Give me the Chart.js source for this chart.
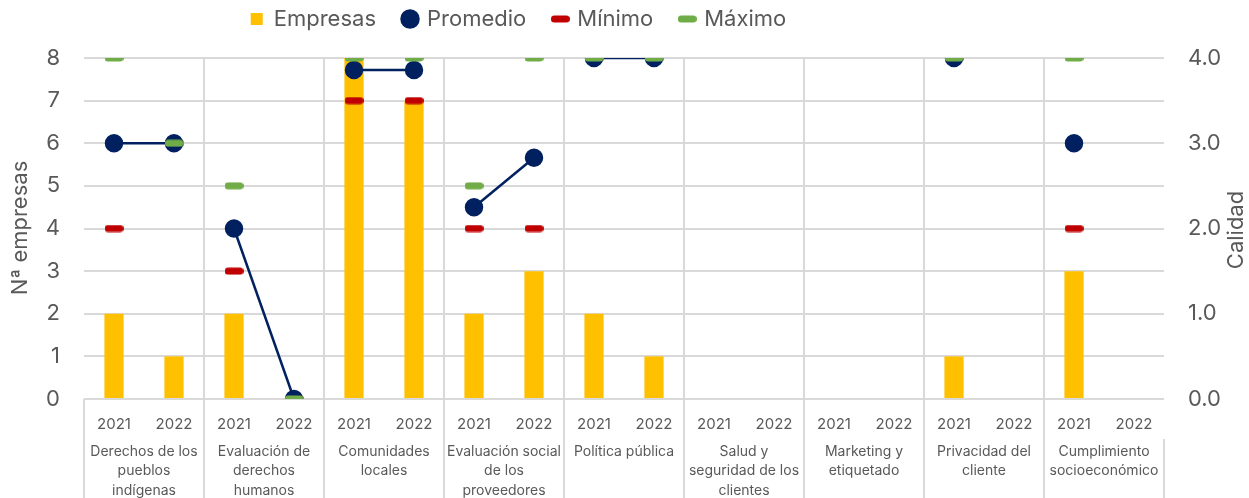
<!DOCTYPE html>
<html>
<head>
<meta charset="utf-8">
<script src="https://cdn.jsdelivr.net/npm/chart.js@4.4.1/dist/chart.umd.min.js"></script>
<style>
html, body { margin: 0; padding: 0; background: #fff; }
#contenedor { width: 1249px; height: 498px; }
</style>
</head>
<body>
<div id="contenedor"><canvas id="grafica"></canvas></div>
<script>
// datos
var anios = ["2021", "2022", "2021", "2022", "2021", "2022", "2021", "2022", "2021", "2022",
             "2021", "2022", "2021", "2022", "2021", "2022", "2021", "2022"];
var grupos = [
    ["Derechos de los", "pueblos", "indígenas"],
    ["Evaluación de", "derechos", "humanos"],
    ["Comunidades", "locales"],
    ["Evaluación social", "de los", "proveedores"],
    ["Política pública"],
    ["Salud y", "seguridad de los", "clientes"],
    ["Marketing y", "etiquetado"],
    ["Privacidad del", "cliente"],
    ["Cumplimiento", "socioeconómico"]
];
var empresas = [2, 1, 2, 0, 8, 7, 2, 3, 2, 1, 0, 0, 0, 0, 1, 0, 3, 0];
var promedio = [3, 3, 2, 0, 3.86, 3.86, 2.25, 2.83, 4, 4, null, null, null, null, 4, null, 3, null];
var minimo   = [2, 3, 1.5, 0, 3.5, 3.5, 2, 2, 4, 4, null, null, null, null, 4, null, 2, null];
var maximo   = [4, 3, 2.5, 0, 4, 4, 2.5, 4, 4, 4, null, null, null, null, 4, null, 4, null];

var colorTexto = "#595959";
var colorRejilla = "#d9d9d9";
Chart.defaults.font.family = "Inter";
Chart.defaults.color = colorTexto;

// marcador en forma de pastilla para minimo / maximo
function pastilla(color) {
    var c = document.createElement("canvas");
    c.width = 19; c.height = 8;
    var x = c.getContext("2d");
    x.fillStyle = color;
    x.beginPath();
    x.roundRect(0, 0.5, 19, 7, 3.5);
    x.fill();
    return c;
}

var titulosEjes = {
    id: "titulosEjes",
    afterInit: function (chart) {
        // ajustar el hueco de la leyenda
        var fitOriginal = chart.legend.fit;
        chart.legend.fit = function () {
            fitOriginal.call(this);
            this.height -= 2;
        };
    },
    afterLayout: function (chart) {
        // desplazar la leyenda como en el original
        chart.legend.left -= 106;
        chart.legend.right -= 106;
        chart.legend.top -= 20;
        chart.legend.bottom -= 20;
    },
    afterDraw: function (chart) {
        var ctx = chart.ctx;
        ctx.save();
        ctx.fillStyle = colorTexto;
        ctx.font = "22px Inter";
        ctx.textAlign = "center";
        ctx.textBaseline = "middle";
        ctx.translate(20, 228);
        ctx.rotate(-Math.PI / 2);
        ctx.fillText("Nª empresas", 0, 0);
        ctx.restore();
        ctx.save();
        ctx.fillStyle = colorTexto;
        ctx.font = "22px Inter";
        ctx.textAlign = "center";
        ctx.textBaseline = "middle";
        ctx.translate(1236, 230);
        ctx.rotate(-Math.PI / 2);
        ctx.fillText("Calidad", 0, 0);
        ctx.restore();
    }
};

var ctx = document.getElementById("grafica").getContext("2d");
var grafica = new Chart(ctx, {
    data: {
        labels: anios,
        datasets: [
            {
                type: "bar",
                label: "Empresas",
                data: empresas,
                backgroundColor: "#FFC000",
                barPercentage: 0.32,
                categoryPercentage: 1,
                pointStyle: "rect",
                yAxisID: "y",
                order: 4
            },
            {
                type: "line",
                label: "Promedio",
                data: promedio,
                borderColor: "#002060",
                backgroundColor: "#002060",
                borderWidth: 2.5,
                pointRadius: 8,
                pointHoverRadius: 8,
                pointStyle: "circle",
                segment: {
                    borderColor: function (c) { return c.p0DataIndex % 2 === 1 ? "transparent" : "#002060"; }
                },
                yAxisID: "y2",
                order: 2
            },
            {
                type: "line",
                label: "Mínimo",
                data: minimo,
                showLine: false,
                pointStyle: pastilla("#C00000"),
                borderColor: "#C00000",
                backgroundColor: "#C00000",
                yAxisID: "y2",
                order: 3
            },
            {
                type: "line",
                label: "Máximo",
                data: maximo,
                showLine: false,
                pointStyle: pastilla("#70AD47"),
                borderColor: "#70AD47",
                backgroundColor: "#70AD47",
                yAxisID: "y2",
                order: 1
            }
        ]
    },
    options: {
        responsive: true,
        maintainAspectRatio: false,
        animation: false,
        layout: { padding: 0 },
        plugins: {
            tooltip: { enabled: false },
            legend: {
                position: "top",
                labels: {
                    usePointStyle: true,
                    boxWidth: 12,
                    boxHeight: 12,
                    padding: 28,
                    font: { size: 22 },
                    color: colorTexto,
                    sort: function (a, b) { return a.datasetIndex - b.datasetIndex; }
                }
            }
        },
        scales: {
            x: {
                type: "category",
                position: "bottom",
                offset: true,
                border: { display: false },
                grid: {
                    offset: true,
                    color: function (c) { return (c.index % 2 === 0 && c.index > 0) ? colorRejilla : "transparent"; },
                    tickColor: function (c) { return c.index % 2 === 0 ? colorRejilla : "transparent"; },
                    lineWidth: 2,
                    tickLength: 40
                },
                ticks: { font: { size: 15 }, padding: -24, maxRotation: 0, autoSkip: false },
                afterFit: function (s) { s.height = 40; }
            },
            x2: {
                type: "category",
                position: "bottom",
                labels: grupos,
                offset: true,
                border: { display: false },
                grid: {
                    offset: true,
                    drawOnChartArea: false,
                    color: colorRejilla,
                    lineWidth: 2,
                    tickLength: 59
                },
                ticks: { font: { size: 14, lineHeight: 1.38 }, padding: -56, maxRotation: 0, autoSkip: false },
                afterFit: function (s) { s.height = 59; }
            },
            y: {
                position: "left",
                min: 0,
                max: 8,
                border: { display: false },
                grid: { color: colorRejilla, lineWidth: 2, drawTicks: false },
                ticks: { stepSize: 1, font: { size: 22 }, padding: 24 },
                afterFit: function (s) { s.width = 84; }
            },
            y2: {
                position: "right",
                min: 0,
                max: 4,
                border: { display: false },
                grid: { drawOnChartArea: false, drawTicks: false },
                ticks: {
                    stepSize: 1,
                    font: { size: 22 },
                    padding: 24,
                    callback: function (v) { return v.toFixed(1); }
                },
                afterFit: function (s) { s.width = 85; }
            }
        }
    },
    plugins: [titulosEjes]
});
</script>
</body>
</html>
